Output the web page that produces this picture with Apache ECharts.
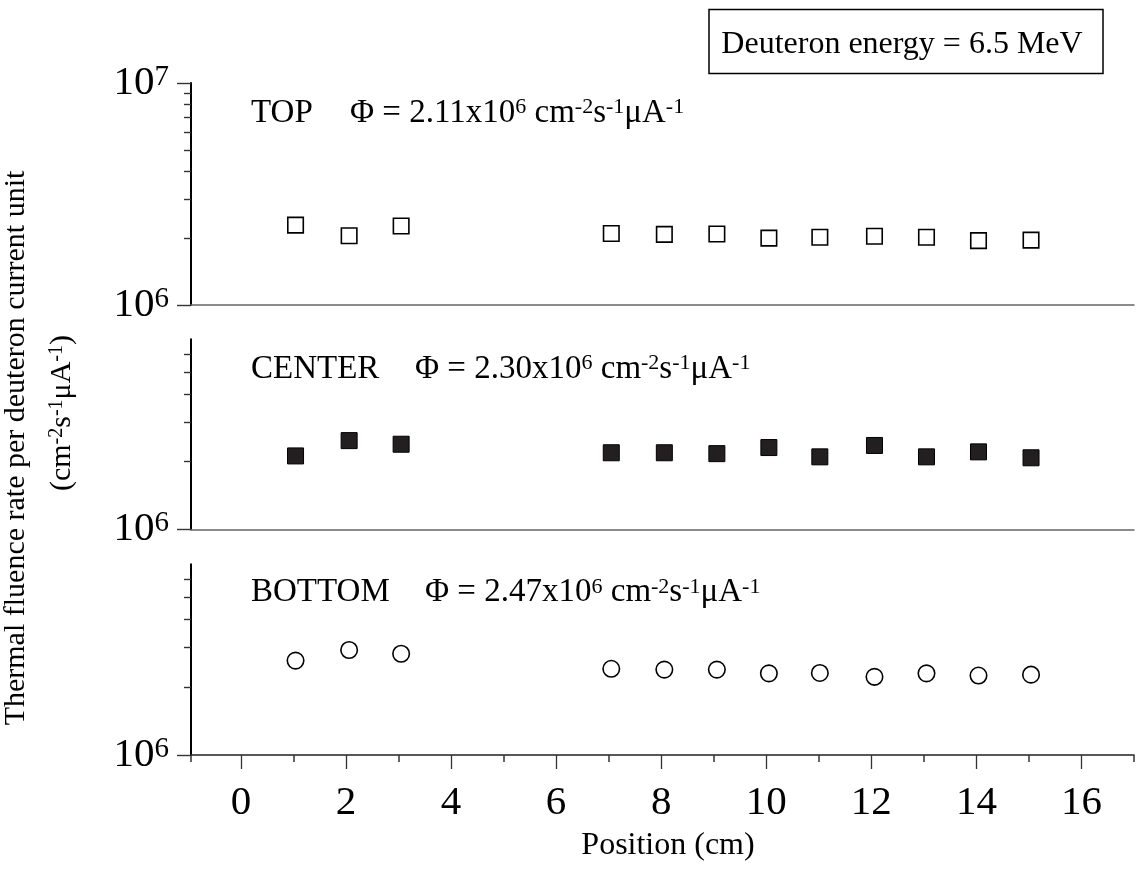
<!DOCTYPE html>
<html><head><meta charset="utf-8">
<script src="https://cdn.jsdelivr.net/npm/echarts@6/dist/echarts.min.js"></script>
<style>html,body{margin:0;padding:0;background:#fff}#c{width:1137px;height:877px}</style>
</head><body><div id="c"></div>
<script>
// ---- data ----
const positions = [1.04, 2.06, 3.05, 7.05, 8.06, 9.06, 10.05, 11.02, 12.06, 13.05, 14.04, 15.04];
const topValues = [2.29e6, 2.05e6, 2.27e6, 2.10e6, 2.08e6, 2.09e6, 2.00e6, 2.02e6, 2.04e6, 2.02e6, 1.95e6, 1.96e6];
const centerValues = [2.12e6, 2.48e6, 2.39e6, 2.19e6, 2.19e6, 2.17e6, 2.31e6, 2.10e6, 2.36e6, 2.10e6, 2.21e6, 2.08e6];
const bottomValues = [2.62e6, 2.92e6, 2.81e6, 2.41e6, 2.39e6, 2.39e6, 2.30e6, 2.31e6, 2.22e6, 2.30e6, 2.25e6, 2.27e6];
const xMajorTicks = [0, 2, 4, 6, 8, 10, 12, 14, 16];
const xMinorTicks = [-0.95, 1, 3, 5, 7, 9, 11, 13, 15, 17];
const yMajorTicks = [1e6, 1e7];
const yMinorTicks = [2e6, 3e6, 4e6, 5e6, 6e6, 7e6, 8e6, 9e6];
const panelNames = ['TOP', 'CENTER', 'BOTTOM'];
const panelPhi = ['2.11', '2.30', '2.47'];
const panelMax = [1e7, 7e6, 7e6];

const FONT = 'Liberation Serif';
const chart = echarts.init(document.getElementById('c'), null, {renderer: 'canvas'});

const grids = [
  {left: 191, right: 3, top: 83, height: 222},
  {left: 191, right: 3, top: 339.3, height: 190},
  {left: 191, right: 3, top: 564.3, height: 190.7}
];

const xAxes = [];
const yAxes = [];
for (let g = 0; g < 3; g++) {
  const isBottom = g === 2;
  xAxes.push({
    type: 'value', gridIndex: g, min: -0.95, max: 17, position: 'bottom',
    axisLine: {show: true, onZero: false, lineStyle: {color: isBottom ? '#222' : '#666', width: 1.5}},
    axisTick: {show: isBottom, inside: false, length: 14, customValues: xMajorTicks, lineStyle: {color: '#333', width: 1.3}},
    axisLabel: {show: isBottom, customValues: xMajorTicks, margin: 28, fontFamily: FONT, fontSize: 41, color: '#000'},
    splitLine: {show: false}
  });
  if (isBottom) {
    xAxes.push({
      type: 'value', gridIndex: g, min: -0.95, max: 17, position: 'bottom',
      axisLine: {show: false, onZero: false},
      axisTick: {show: true, length: 7, customValues: xMinorTicks, lineStyle: {color: '#333', width: 1.5}},
      axisLabel: {show: false},
      splitLine: {show: false}
    });
  }
  const max = panelMax[g];
  const majors = yMajorTicks.filter(v => v <= max);
  yAxes.push({
    type: 'log', logBase: 10, gridIndex: g, min: 1e6, max: max, position: 'left',
    axisLine: {show: true, onZero: false, lineStyle: {color: '#000', width: 2}},
    axisTick: {show: true, length: 14, customValues: majors, lineStyle: {color: '#333', width: 1.4}},
    axisLabel: {
      show: true, margin: 22, customValues: majors,
      formatter: v => '{b|10}{s|' + Math.round(Math.log10(v)) + '}',
      rich: {
        b: {fontFamily: FONT, fontSize: 41, color: '#000', lineHeight: 41},
        s: {fontFamily: FONT, fontSize: 29, color: '#000', verticalAlign: 'top', lineHeight: 22}
      }
    },
    splitLine: {show: false}
  });
  yAxes.push({
    type: 'log', logBase: 10, gridIndex: g, min: 1e6, max: max, position: 'left',
    axisLine: {show: false, onZero: false},
    axisTick: {show: true, length: 7, customValues: yMinorTicks.filter(v => v < max), lineStyle: {color: '#333', width: 1.4}},
    axisLabel: {show: false},
    splitLine: {show: false}
  });
}

function pairs(vals) { return positions.map((x, i) => [x, vals[i]]); }

const series = [
  {type: 'scatter', xAxisIndex: 0, yAxisIndex: 0, data: pairs(topValues), symbol: 'rect', symbolSize: 15.5,
   itemStyle: {color: '#fff', borderColor: '#000', borderWidth: 1.6, opacity: 1}},
  {type: 'scatter', xAxisIndex: 1, yAxisIndex: 2, data: pairs(centerValues), symbol: 'rect', symbolSize: 16,
   itemStyle: {color: '#231f20', borderColor: '#000', borderWidth: 1, opacity: 1}},
  {type: 'scatter', xAxisIndex: 2, yAxisIndex: 4, data: pairs(bottomValues), symbol: 'circle', symbolSize: 16.5,
   itemStyle: {color: '#fff', borderColor: '#000', borderWidth: 1.6, opacity: 1}}
];

const supRich = {
  t: {fontFamily: FONT, fontSize: 33, color: '#000', lineHeight: 33},
  u: {fontFamily: FONT, fontSize: 22, color: '#000', verticalAlign: 'top', lineHeight: 22}
};
function phiText(v) {
  return '{t|Φ = ' + v + 'x10}{u|6}{t| cm}{u|-2}{t|s}{u|-1}{t|μA}{u|-1}';
}
const nameX = [251, 251, 251];
const phiX = [350, 415, 425];
const labelY = [113, 369, 592.5];

const graphics = [];
for (let g = 0; g < 3; g++) {
  graphics.push({type: 'text', x: nameX[g], y: labelY[g], z: 10,
    style: {text: panelNames[g], font: '33px "' + FONT + '"', fill: '#000', align: 'left', verticalAlign: 'middle'}});
  graphics.push({type: 'text', x: phiX[g], y: labelY[g], z: 10,
    style: {text: phiText(panelPhi[g]), rich: supRich, fill: '#000', align: 'left', verticalAlign: 'middle'}});
}
graphics.push({type: 'rect', shape: {x: 709, y: 9.5, width: 394, height: 64}, z: 10,
  style: {fill: '#fff', stroke: '#000', lineWidth: 1.5}});
graphics.push({type: 'text', x: 902, y: 45, z: 11,
  style: {text: 'Deuteron energy = 6.5 MeV', font: '32px "' + FONT + '"', fill: '#000', align: 'center', verticalAlign: 'middle'}});
graphics.push({type: 'text', x: 668, y: 846, z: 10,
  style: {text: 'Position (cm)', font: '32px "' + FONT + '"', fill: '#000', align: 'center', verticalAlign: 'middle'}});
graphics.push({type: 'text', x: 16, y: 448, rotation: Math.PI / 2, z: 10,
  style: {text: 'Thermal fluence rate per deuteron current unit', font: '30px "' + FONT + '"', fill: '#000', align: 'center', verticalAlign: 'middle'}});
graphics.push({type: 'text', x: 62, y: 413, rotation: Math.PI / 2, z: 10,
  style: {text: '{t|(cm}{u|-2}{t|s}{u|-1}{t|μA}{u|-1}{t|)}',
    rich: {t: {fontFamily: FONT, fontSize: 30, color: '#000', lineHeight: 30},
           u: {fontFamily: FONT, fontSize: 20, color: '#000', verticalAlign: 'top', lineHeight: 20}},
    align: 'center', verticalAlign: 'middle'}});

chart.setOption({
  animation: false,
  backgroundColor: '#fff',
  grid: grids,
  xAxis: xAxes,
  yAxis: yAxes,
  series: series,
  graphic: graphics
});
</script></body></html>
